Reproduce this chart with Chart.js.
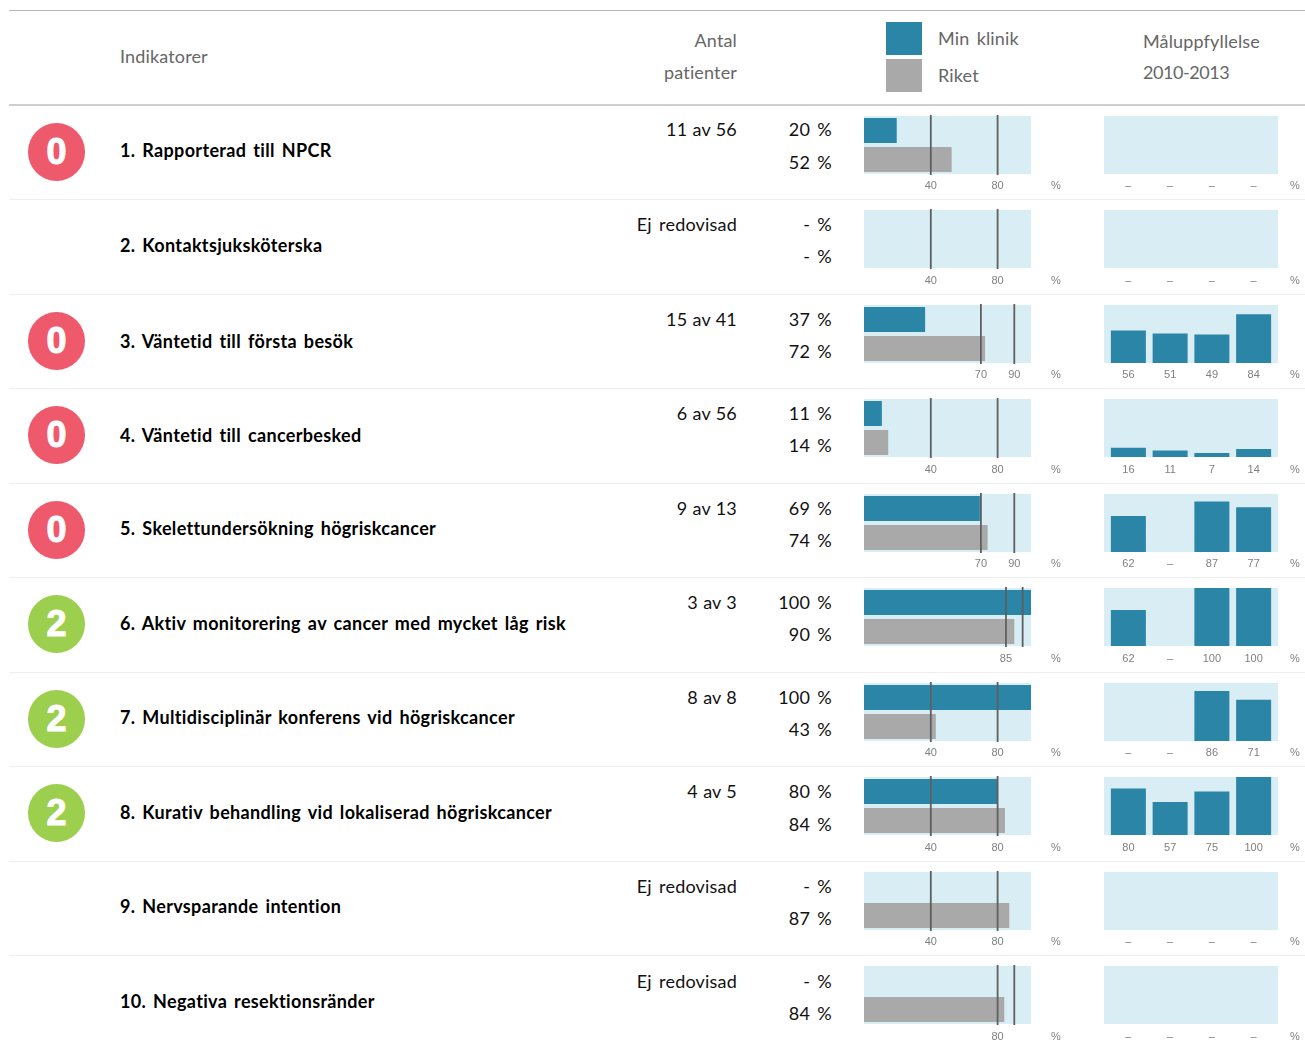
<!DOCTYPE html>
<html lang="sv"><head><meta charset="utf-8">
<script src="https://cdn.jsdelivr.net/npm/chart.js@4"></script>
<style>
html,body{margin:0;padding:0;background:#fff;}
body{width:1305px;height:1044px;position:relative;overflow:hidden;font-family:Lato,sans-serif;}
.t{position:absolute;white-space:nowrap;line-height:24px;height:24px;font-size:18px;letter-spacing:.2px;word-spacing:2.5px;}
.h{color:#666;letter-spacing:.15px;}
.d{color:#111;}
.p{word-spacing:.4px;}
.n{color:#000;font-weight:700;letter-spacing:.34px;word-spacing:2.2px;}
.r{text-align:right;}
.y{letter-spacing:-.45px;}
.pc{position:absolute;font:11px "Liberation Sans",sans-serif;color:#808080;line-height:14px;transform:translateX(-50%);}
.sep{position:absolute;left:9px;width:1296px;}
.sq{position:absolute;left:886px;width:36px;height:33px;}
.badge{position:absolute;left:28px;width:57px;height:57.5px;border-radius:50%;color:#fff;text-align:center;font:700 36px/57px "Liberation Sans",sans-serif;-webkit-text-stroke:1px #fff;}
canvas{position:absolute;display:block;}
</style></head><body>
<script>
const indicators=["1. Rapporterad till NPCR","2. Kontaktsjuksköterska","3. Väntetid till första besök","4. Väntetid till cancerbesked","5. Skelettundersökning högriskcancer","6. Aktiv monitorering av cancer med mycket låg risk","7. Multidisciplinär konferens vid högriskcancer","8. Kurativ behandling vid lokaliserad högriskcancer","9. Nervsparande intention","10. Negativa resektionsränder"];
const patients=["11 av 56","Ej redovisad","15 av 41","6 av 56","9 av 13","3 av 3","8 av 8","4 av 5","Ej redovisad","Ej redovisad"];
const badges=[0,null,0,0,0,2,2,2,null,null];
const clinicLabels=["20 %","- %","37 %","11 %","69 %","100 %","100 %","80 %","- %","- %"];
const nationLabels=["52 %","- %","72 %","14 %","74 %","90 %","43 %","84 %","87 %","84 %"];
const clinic=[19.6,null,36.6,10.7,69.4,100,100,80,null,null];
const nation=[52.5,null,72.5,14.5,74,90,43,84.4,87,84];
const targetLow=[40,40,70,40,70,85,40,40,40,80];
const targetHigh=[80,80,90,80,90,95,80,80,80,90];
const targetTicks=[[40,80],[40,80],[70,90],[40,80],[70,90],[85],[40,80],[40,80],[40,80],[80]];
const years=["2010","2011","2012","2013"];
const goal2010=[null,null,56,16,62,62,null,80,null,null];
const goal2011=[null,null,51,11,null,null,null,57,null,null];
const goal2012=[null,null,49,7,87,100,86,75,null,null];
const goal2013=[null,null,84,14,77,100,71,100,null,null];
const rowTops=[116,210,305,399,494,588,683,777,872,966];
const separators=[199,294,388,483,577,672,766,861,955];
const nameY=[34,35,36,36,34,35,34,35,34,35];
const firstY=[13,14,14,14,14,14,14,14,14,15];
const secondY=[46,46,46,46,46,46,46,47,46,47];

const BLUE="#2a85a7",GRAY="#a9a9a9",PANEL="#d9edf4",LINE="#5f5f5f",TICK="#808080";
const tickFont={family:'"Liberation Sans",sans-serif',size:11};

function el(cls,css,text){const d=document.createElement('div');d.className=cls;d.style.cssText=css;if(text!=null)d.textContent=text;document.body.appendChild(d);return d;}
function text(cls,x,cy,s,right){const c=cls+(right?' r':'');const pos=right?`right:${1305-x}px`:`left:${x}px`;return el('t '+c,`${pos};top:${cy-12}px`,s);}

el('sep','top:10px;height:1px;background:#b8b8b8');
el('sep','top:104px;height:2px;background:#cfcfcf');
separators.forEach(y=>el('sep',`top:${y}px;height:1px;background:#efefef`));
text('h',120,56,'Indikatorer');
text('h',737,40,'Antal',true);text('h',737,72,'patienter',true);
el('sq','top:22px;background:'+BLUE);el('sq','top:59px;background:'+GRAY);
text('h',938,38,'Min klinik');text('h',938,75,'Riket');
text('h',1143,41,'Måluppfyllelse');text('h y',1143,72,'2010-2013');

const panel={id:'panel',beforeDatasetsDraw(c,a,o){const g=c.ctx,r=c.chartArea,p=o.inset||0;g.save();g.fillStyle=PANEL;g.fillRect(r.left-p,r.top,r.right-r.left+2*p,r.bottom-r.top);g.restore();}};
const targets={id:'targets',afterDatasetsDraw(c,a,o){if(!o.values)return;const g=c.ctx,r=c.chartArea;g.save();g.strokeStyle=LINE;g.lineWidth=1.8;o.values.forEach(v=>{const x=c.scales.x.getPixelForValue(v);g.beginPath();g.moveTo(x,r.top-1);g.lineTo(x,r.bottom+1);g.stroke();});g.restore();}};

function hbar(i){
  const cv=document.createElement('canvas');cv.style.left='864px';cv.style.top=(rowTops[i]-2)+'px';cv.style.width='190px';cv.style.height='84px';cv.width=190;cv.height=84;document.body.appendChild(cv);
  new Chart(cv,{type:'bar',plugins:[panel,targets],data:{labels:['Min klinik','Riket'],datasets:[{data:[clinic[i],nation[i]],backgroundColor:[BLUE,GRAY],categoryPercentage:1,barPercentage:25/29}]},
   options:{indexAxis:'y',animation:false,responsive:false,devicePixelRatio:1,layout:{padding:{top:2,right:23,left:0,bottom:0}},
    plugins:{legend:{display:false},tooltip:{enabled:false},panel:{},targets:{values:[targetLow[i],targetHigh[i]]}},
    scales:{y:{display:false},x:{min:0,max:100,grid:{display:false,drawTicks:false},border:{display:false},
      afterBuildTicks:s=>{s.ticks=targetTicks[i].map(v=>({value:v}));},
      afterFit:s=>{s.height=24;s.paddingLeft=0;s.paddingRight=0;},
      ticks:{autoSkip:false,maxRotation:0,padding:5+i%2,color:TICK,font:tickFont}}}}});
}
function vbar(i){
  const vals=[goal2010[i],goal2011[i],goal2012[i],goal2013[i]];
  const cv=document.createElement('canvas');cv.style.left='1104px';cv.style.top=(rowTops[i]-2)+'px';cv.style.width='174px';cv.style.height='84px';cv.width=174;cv.height=84;document.body.appendChild(cv);
  new Chart(cv,{type:'bar',plugins:[panel],data:{labels:years,datasets:[{data:vals,backgroundColor:BLUE,categoryPercentage:1,barPercentage:35/41.75}]},
   options:{animation:false,responsive:false,devicePixelRatio:1,layout:{padding:{top:2,left:3.5,right:3.5,bottom:0}},
    plugins:{legend:{display:false},tooltip:{enabled:false},panel:{inset:3.5}},
    scales:{y:{display:false,min:0,max:100},x:{grid:{display:false,drawTicks:false},border:{display:false},
      afterFit:s=>{s.height=24;s.paddingLeft=0;s.paddingRight=0;},
      ticks:{autoSkip:false,maxRotation:0,padding:5+i%2,color:TICK,font:tickFont,callback:(v,k)=>vals[k]==null?'–':String(vals[k])}}}}});
}
rowTops.forEach((top,i)=>{
  if(badges[i]!=null)el('badge',`top:${top+7+(i>0?.4:0)}px;background:${badges[i]===0?'#ee5a6b':'#9ccf4d'}`,badges[i]);
  text('n',120,top+nameY[i],indicators[i]);
  text(patients[i].startsWith('Ej')?'d':'d p',737,top+firstY[i],patients[i],true);
  text('d',832,top+firstY[i],clinicLabels[i],true);
  text('d',832,top+secondY[i],nationLabels[i],true);
  hbar(i);vbar(i);
  el('pc',`left:1056px;top:${top+62+i%2}px`,'%');
  el('pc',`left:1295px;top:${top+62+i%2}px`,'%');
});
</script>
</body></html>
